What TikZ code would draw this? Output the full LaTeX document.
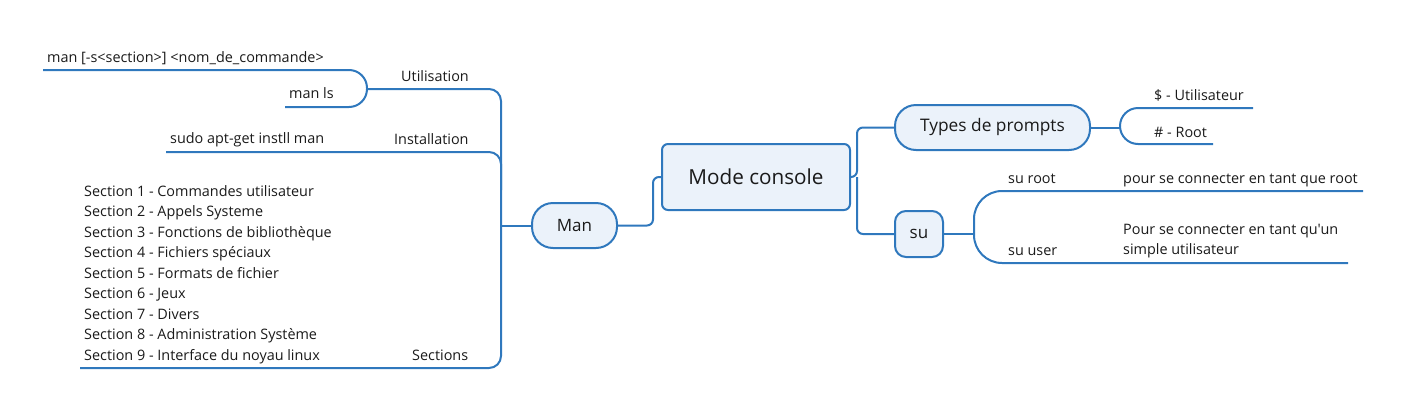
\documentclass[tikz,border=0pt]{standalone}
\usepackage{fontspec}
\setmainfont{Open Sans}[Ligatures=TeXOff]
\definecolor{ln}{HTML}{2F78BD}
\definecolor{bx}{HTML}{EBF2FA}
\definecolor{tx}{HTML}{1A1A1A}
\begin{document}
\begin{tikzpicture}[x=1pt,y=-1pt,
  conn/.style={draw=ln,line width=2pt,rounded corners=6pt},
  brk/.style={draw=ln,line width=2pt},
  topic/.style={draw=ln,fill=bx,line width=2pt,text=tx,inner sep=0pt},
  lbl/.style={anchor=base west,inner sep=0pt,text=tx,font=\fontsize{14.4}{16}\selectfont}]
\useasboundingbox (0,0) rectangle (1406,418);
% topics
\node[topic,rounded corners=6pt,minimum width=188pt,minimum height=66pt,font=\fontsize{20.7}{24}\selectfont] (mc) at (756,177) {Mode console};
\node[topic,rounded corners=21pt,minimum width=85pt,minimum height=45pt,font=\fontsize{17}{20}\selectfont] (man) at (574.5,225.5) {Man};
\node[topic,rounded corners=21pt,minimum width=195pt,minimum height=45pt,font=\fontsize{17.3}{20}\selectfont] (tp) at (992.5,127.5) {Types de prompts};
\node[topic,rounded corners=11pt,minimum width=48pt,minimum height=46pt,font=\fontsize{17}{20}\selectfont] (su) at (919,234) {su};
% junctions
\coordinate (j1) at (653,177);
\coordinate (j2) at (857,177);
\coordinate (bus) at (501,225.5);
\coordinate (ut) at (367,89);
\coordinate (tb) at (1120,127.5);
\coordinate (sb) at (974,234);
% centre connectors
\draw[conn] (man.east) -| (j1) -- (mc.west);
\draw[conn] (mc.east) -- (j2) |- (tp.west);
\draw[conn] (j2) |- (su.west);
\draw[conn] (tp.east) -- (tb);
\draw[conn] (su.east) -- (sb);
\draw[conn] (man.west) -- (bus);
% left bus
\draw[conn,rounded corners=12pt] (ut) -- (501,89) -- (501,368) -- (80,368);
\draw[conn,rounded corners=12pt] (166,152) -- (501,152) -- (501,190);
% Utilisation bracket
\draw[brk,rounded corners=18pt] (43,70) -- (367,70) -- (367,107) -- (285,107);
% Types bracket
\draw[brk,rounded corners=18pt] (1253,108) -- (1120,108) -- (1120,144) -- (1213,144);
% su bracket
\draw[brk,rounded corners=28pt] (1363,191) -- (974,191) -- (974,263) -- (1348,263);
% labels
\node[lbl] (l1) at (47,62) {man [-s<section>] <nom\_de\_commande>};
\node[lbl] (l2) at (401,81) {Utilisation};
\node[lbl] (l3) at (289,98) {man ls};
\node[lbl] (l4) at (170,143) {sudo apt-get instll man};
\node[lbl] (l5) at (394,144) {Installation};
\node[lbl] (l6) at (412,360) {Sections};
\node[lbl] (s1) at (84,196) {Section 1 - Commandes utilisateur};
\node[lbl] (s2) at (84,216.5) {Section 2 - Appels Systeme};
\node[lbl] (s3) at (84,237) {Section 3 - Fonctions de bibliothèque};
\node[lbl] (s4) at (84,257.5) {Section 4 - Fichiers spéciaux};
\node[lbl] (s5) at (84,278) {Section 5 - Formats de fichier};
\node[lbl] (s6) at (84,298.5) {Section 6 - Jeux};
\node[lbl] (s7) at (84,319) {Section 7 - Divers};
\node[lbl] (s8) at (84,339.5) {Section 8 - Administration Système};
\node[lbl] (s9) at (84,360) {Section 9 - Interface du noyau linux};
\node[lbl] (p1) at (1154,100) {\$ - Utilisateur};
\node[lbl] (p2) at (1154,137) {\# - Root};
\node[lbl] (r1) at (1008,183) {su root};
\node[lbl] (r2) at (1123,183) {pour se connecter en tant que root};
\node[lbl] (r3) at (1008,255) {su user};
\node[lbl] (r4) at (1123,234) {Pour se connecter en tant qu'un};
\node[lbl] (r5) at (1123,254) {simple utilisateur};
\end{tikzpicture}
\end{document}
